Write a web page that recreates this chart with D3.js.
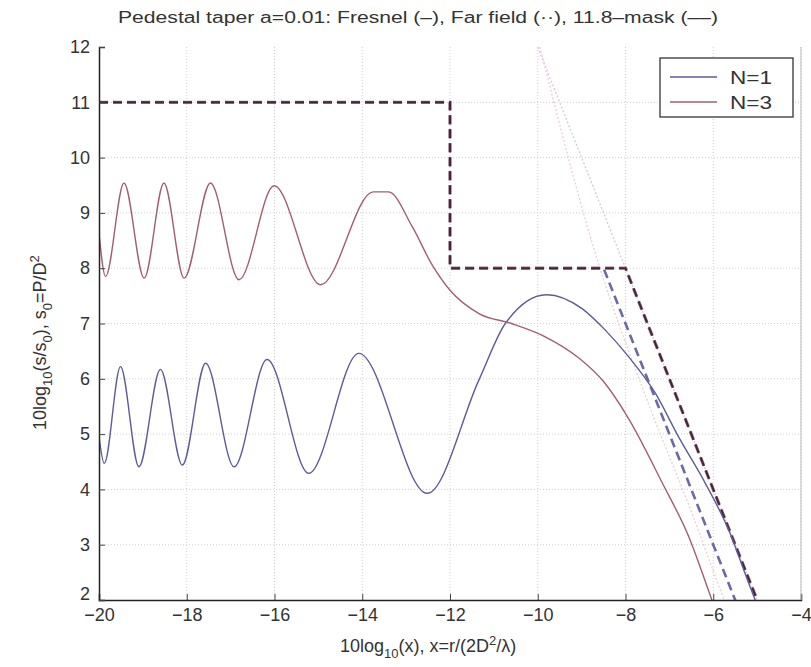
<!DOCTYPE html>
<html>
<head>
<meta charset="utf-8">
<script src="https://cdn.jsdelivr.net/npm/d3@7"></script>
<style>
  body { margin: 0; background: #fff; }
  svg text { font-family: "Liberation Sans", Arial, sans-serif; fill: #333; }
</style>
</head>
<body>
<svg class="chart" width="811" height="667"></svg>
<script>
// axis ticks
const xTicks = [-20, -18, -16, -14, -12, -10, -8, -6, -4];
const yTicks = [2, 3, 4, 5, 6, 7, 8, 9, 10, 11, 12];

// Fresnel, N=1
const n1X = [-20, -19.88, -19.51, -19.09, -18.6, -18.1, -17.57, -16.92, -16.17, -15.22, -14.08, -12.52,
             -11.34, -10.74, -9.8, -8.99, -8.46, -7.93, -7.32, -6.79, -6.18, -5.65, -5.19, -4.9];
const n1Y = [4.95, 4.47, 6.22, 4.41, 6.17, 4.44, 6.28, 4.41, 6.35, 4.29, 6.46, 3.93,
             5.98, 7.0, 7.52, 7.27, 6.88, 6.40, 5.74, 4.95, 4.11, 3.27, 2.30, 1.7];

// Fresnel, N=3
const n3X = [-20, -19.85, -19.43, -18.97, -18.52, -18.06, -17.46, -16.81, -16.01, -14.95, -13.75, -13.4,
             -12.86, -12.4, -12.0, -11.34, -10.6, -9.83, -9.07, -8.5, -7.93, -7.17, -6.56, -6.03, -5.8];
const n3Y = [8.63, 7.85, 9.54, 7.82, 9.54, 7.82, 9.54, 7.79, 9.49, 7.70, 9.38, 9.38,
             8.75, 8.05, 7.6, 7.18, 7.0, 6.76, 6.38, 5.95, 5.28, 4.13, 3.15, 2.0, 1.5];

// far field
const ffN1X = [-10.2, -4.5];
const ffN1Y = [12.4, 1];
const ffN3X = [-9.95, -8.7, -7.5, -6.5, -5.75, -5.5];
const ffN3Y = [12, 8.3, 5.6, 3.6, 2.0, 1.5];

// 11.8 mask
const maskN1X = [-20, -12, -12, -8.5, -5];
const maskN1Y = [11, 11, 8, 8, 1];
const maskN3X = [-20, -12, -12, -8, -4.5];
const maskN3Y = [11, 11, 8, 8, 1];

const legendNames = ["N=1", "N=3"];

const blue = '#5c5c9a';
const red = '#a2606e';
const font = '"Liberation Sans", Arial, sans-serif';

const pLeft = 99, pRight = 801, pTop = 47, pBottom = 600;

const svg = d3.select('svg.chart');

const x = d3.scaleLinear().domain([-20, -4]).range([pLeft, pRight]);
const y = d3.scaleLinear().domain([2, 12]).range([pBottom, pTop]);

svg.append('defs').append('clipPath').attr('id', 'plotClip')
  .append('rect')
  .attr('x', pLeft).attr('y', pTop)
  .attr('width', pRight - pLeft).attr('height', pBottom - pTop);

// grid
const grid = svg.append('g').attr('class', 'grid');
grid.selectAll('line.vg')
  .data(xTicks.slice(1))
  .enter().append('line')
  .attr('class', 'vg')
  .attr('x1', d => x(d)).attr('x2', d => x(d))
  .attr('y1', pTop).attr('y2', pBottom)
  .style('stroke', '#cfcfcf')
  .style('stroke-dasharray', '1,2');
grid.selectAll('line.hg')
  .data(yTicks.slice(1, -1))
  .enter().append('line')
  .attr('class', 'hg')
  .attr('x1', pLeft).attr('x2', pRight)
  .attr('y1', d => y(d)).attr('y2', d => y(d))
  .style('stroke', '#cfcfcf')
  .style('stroke-dasharray', '1,2');

const plot = svg.append('g').attr('clip-path', 'url(#plotClip)');

function drawLine(xs, ys, color, width, dash, curve) {
  const line = d3.line()
    .x(d => x(d[0]))
    .y(d => y(d[1]))
    .curve(curve || d3.curveLinear);
  plot.append('path')
    .datum(xs.map((v, i) => [v, ys[i]]))
    .attr('d', line)
    .style('fill', 'none')
    .style('stroke', color)
    .style('stroke-width', width)
    .style('stroke-dasharray', dash || null);
}

// far field (dotted, faint)
drawLine(ffN1X, ffN1Y, '#cccce6', 1.3, '2,2');
drawLine(ffN3X, ffN3Y, '#f0ccd4', 1.3, '2,2', d3.curveMonotoneX);

// masks
drawLine(maskN1X, maskN1Y, '#6c6aa4', 2.6, '9,5');
drawLine(maskN3X, maskN3Y, '#b07080', 3.2, '9,5');
drawLine(maskN3X, maskN3Y, '#3a2a3c', 2, '9,5');

// Fresnel
drawLine(n1X, n1Y, blue, 1.4, null, d3.curveMonotoneX);
drawLine(n3X, n3Y, red, 1.4, null, d3.curveMonotoneX);

// axes
const xAxis = d3.axisBottom(x).tickValues(xTicks).tickSize(-6).tickPadding(8)
  .tickFormat(d => d3.format('')(d).replace('-', '\u2212'));
const yAxis = d3.axisLeft(y).tickValues(yTicks).tickSize(-6).tickPadding(9);

const gx = svg.append('g').attr('transform', `translate(0,${pBottom})`).call(xAxis);
const gy = svg.append('g').attr('transform', `translate(${pLeft},0)`).call(yAxis);
[gx, gy].forEach(g => {
  g.select('.domain').style('stroke', '#222').style('stroke-width', 1.5);
  g.selectAll('.tick line').style('stroke', '#444');
  g.selectAll('.tick text').style('font-size', '18px').style('fill', '#333')
    .style('font-family', font);
});
gx.selectAll('.tick text').attr('dy', '0.72em');
// lowest y label sits just above the x labels
gy.selectAll('.tick text').filter(d => d === 2).attr('dy', '-0.05em');

// right border
svg.append('line')
  .attr('x1', pRight).attr('x2', pRight).attr('y1', pTop).attr('y2', pBottom)
  .style('stroke', '#bbb');

// title
svg.append('text')
  .attr('x', 118).attr('y', 23)
  .attr('textLength', 600).attr('lengthAdjust', 'spacingAndGlyphs')
  .style('font-size', '16px')
  .text('Pedestal taper a=0.01: Fresnel (\u2013), Far field (\u00b7\u00b7), 11.8\u2013mask (\u2013\u2013)');

// x label
const xl = svg.append('text')
  .attr('x', 340).attr('y', 652)
  .style('font-size', '18px');
xl.append('tspan').text('10log');
xl.append('tspan').text('10').style('font-size', '13px').attr('dy', 6);
xl.append('tspan').text('(x), x=r/(2D').attr('dy', -6);
xl.append('tspan').text('2').style('font-size', '13px').attr('dy', -7);
xl.append('tspan').text('/\u03bb)').attr('dy', 7);

// y label
const yl = svg.append('text')
  .attr('transform', 'translate(46,430) rotate(-90)')
  .style('font-size', '18px');
yl.append('tspan').text('10log');
yl.append('tspan').text('10').style('font-size', '13px').attr('dy', 6);
yl.append('tspan').text('(s/s').attr('dy', -6);
yl.append('tspan').text('0').style('font-size', '13px').attr('dy', 6);
yl.append('tspan').text('), s').attr('dy', -6);
yl.append('tspan').text('0').style('font-size', '13px').attr('dy', 6);
yl.append('tspan').text('=P/D').attr('dy', -6);
yl.append('tspan').text('2').style('font-size', '13px').attr('dy', -7);

// legend
const lg = svg.append('g').attr('class', 'legend');
lg.append('rect')
  .attr('x', 660).attr('y', 58).attr('width', 133).attr('height', 59)
  .style('fill', '#fff').style('stroke', '#333').style('stroke-width', 1.3);
lg.selectAll('line.leg')
  .data(legendNames)
  .enter().append('line')
  .attr('class', 'leg')
  .attr('x1', 670).attr('x2', 717)
  .attr('y1', (d, i) => 77 + i * 25).attr('y2', (d, i) => 77 + i * 25)
  .style('stroke', (d, i) => i == 0 ? blue : red)
  .style('stroke-width', 1.4);
lg.selectAll('text.leg')
  .data(legendNames)
  .enter().append('text')
  .attr('class', 'leg')
  .attr('x', 730).attr('y', (d, i) => 84 + i * 25)
  .attr('textLength', 42).attr('lengthAdjust', 'spacingAndGlyphs')
  .style('font-size', '18px')
  .text(d => d);
</script>
</body>
</html>
